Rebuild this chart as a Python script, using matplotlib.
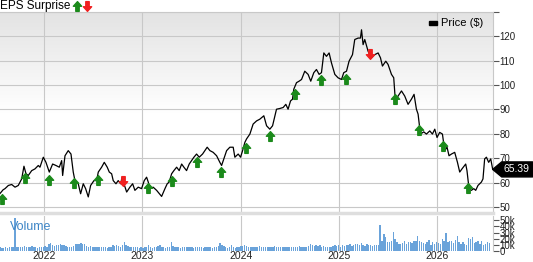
import numpy as np
import matplotlib
matplotlib.use("Agg")
import matplotlib.pyplot as plt
import matplotlib.transforms as mtransforms
from matplotlib.path import Path
from matplotlib.patches import Polygon, Rectangle
from matplotlib.lines import Line2D
from matplotlib.colors import LinearSegmentedColormap

plt.rcParams['font.family'] = ['Liberation Sans', 'DejaVu Sans']

# price line (decimal year, $)
price_t = [2021.549, 2021.580, 2021.600, 2021.634, 2021.668, 2021.702, 2021.735, 2021.770,
           2021.793, 2021.814, 2021.837, 2021.872, 2021.905, 2021.939, 2021.956, 2021.990,
           2022.017, 2022.051, 2022.085, 2022.119, 2022.153, 2022.177, 2022.187, 2022.211,
           2022.244, 2022.272, 2022.295, 2022.312, 2022.346, 2022.370, 2022.397, 2022.421,
           2022.448, 2022.472, 2022.506, 2022.533, 2022.550, 2022.584, 2022.611, 2022.641,
           2022.662, 2022.686, 2022.702, 2022.730, 2022.753, 2022.778, 2022.791, 2022.811,
           2022.839, 2022.872, 2022.900, 2022.923, 2022.957, 2022.991, 2023.018, 2023.042,
           2023.059, 2023.076, 2023.109, 2023.144, 2023.195, 2023.229, 2023.252, 2023.272,
           2023.297, 2023.320, 2023.348, 2023.374, 2023.399, 2023.422, 2023.449, 2023.476,
           2023.500, 2023.524, 2023.551, 2023.578, 2023.612, 2023.659, 2023.687, 2023.720,
           2023.755, 2023.788, 2023.806, 2023.829, 2023.857, 2023.890, 2023.924, 2023.941,
           2023.975, 2023.999, 2024.019, 2024.043, 2024.060, 2024.094, 2024.127, 2024.162,
           2024.195, 2024.236, 2024.264, 2024.297, 2024.325, 2024.365, 2024.399, 2024.433,
           2024.460, 2024.483, 2024.508, 2024.528, 2024.541, 2024.569, 2024.595, 2024.620,
           2024.653, 2024.687, 2024.714, 2024.745, 2024.772, 2024.799, 2024.823, 2024.847,
           2024.874, 2024.901, 2024.925, 2024.959, 2024.992, 2025.027, 2025.050, 2025.078,
           2025.104, 2025.139, 2025.162, 2025.196, 2025.220, 2025.231, 2025.247, 2025.264,
           2025.298, 2025.332, 2025.366, 2025.400, 2025.424, 2025.444, 2025.478, 2025.501,
           2025.536, 2025.559, 2025.577, 2025.603, 2025.638, 2025.671, 2025.705, 2025.739,
           2025.766, 2025.790, 2025.807, 2025.831, 2025.865, 2025.892, 2025.926, 2025.953,
           2025.977, 2026.000, 2026.027, 2026.055, 2026.078, 2026.102, 2026.122, 2026.147,
           2026.180, 2026.208, 2026.231, 2026.254, 2026.292, 2026.305, 2026.326, 2026.350,
           2026.374, 2026.394, 2026.417, 2026.452, 2026.468, 2026.485, 2026.503, 2026.526,
           2026.547, 2026.567]
price = [55.5, 57.0, 57.5, 58.8, 59.2, 58.1, 58.8, 61.5,
         66.7, 63.6, 62.9, 64.9, 65.6, 67.0, 66.3, 70.4,
         68.3, 64.3, 67.6, 67.0, 66.3, 69.0, 62.9, 71.0,
         73.1, 71.7, 64.3, 60.8, 59.5, 55.4, 59.5, 57.5,
         54.1, 58.8, 60.8, 60.8, 64.3, 66.3, 68.3, 66.3,
         64.3, 63.6, 60.8, 59.5, 60.8, 59.5, 62.0, 59.5,
         56.1, 58.1, 59.5, 56.8, 58.1, 57.5, 60.8, 62.2,
         60.2, 57.5, 58.1, 56.8, 54.3, 57.5, 59.5, 60.2,
         63.6, 64.9, 66.3, 64.9, 67.6, 66.3, 64.9, 67.6,
         69.0, 70.4, 71.7, 70.4, 71.7, 74.5, 73.1, 72.4,
         71.0, 68.3, 67.0, 69.7, 73.1, 74.5, 74.5, 70.4,
         71.7, 70.4, 73.0, 76.5, 77.9, 79.9, 84.0, 85.3,
         86.0, 87.4, 83.3, 81.9, 83.3, 90.1, 90.4, 90.8,
         92.1, 90.1, 93.5, 94.2, 98.3, 101.0, 101.6, 102.3,
         105.7, 104.4, 101.6, 105.1, 106.4, 104.4, 105.1, 113.2,
         111.8, 113.2, 109.1, 104.4, 103.0, 102.3, 105.1, 105.7,
         109.8, 112.5, 118.7, 119.3, 119.3, 122.7, 116.6, 118.7,
         113.9, 111.2, 112.5, 113.2, 111.2, 107.8, 109.8, 108.5,
         104.4, 103.0, 92.8, 95.5, 97.6, 95.5, 92.1, 94.2,
         96.2, 90.1, 88.1, 79.9, 80.8, 79.9, 81.2, 79.9,
         81.9, 78.5, 80.6, 79.9, 73.1, 74.5, 71.0, 71.7,
         72.4, 68.3, 64.3, 65.6, 67.6, 64.9, 57.5, 56.8,
         57.5, 56.8, 58.8, 60.2, 61.5, 69.7, 70.4, 68.3,
         69.7, 65.4]
last_price = 65.39

# earnings surprise markers (decimal year)
beat_t = [2021.566, 2021.804, 2022.051, 2022.302, 2022.550, 2023.052, 2023.297, 2023.551,
          2023.798, 2024.053, 2024.300, 2024.552, 2024.819, 2025.068, 2025.569, 2025.817,
          2026.061, 2026.316]
miss_t = [2022.804, 2025.315]

# weekly volume, thousands of shares
vol_start = 2021.549
volume_k = [6, 5, 5, 6, 5, 6, 7, 6, 54, 6, 7, 6, 7, 8, 7, 6, 7, 8, 6, 7, 5, 7, 6,
            7, 8, 6, 11, 13, 9, 8, 9, 10, 12, 10, 9, 8, 7, 6, 7, 8, 11, 12, 12, 13, 11,
            12, 8, 7, 8, 7, 6, 7, 6, 6, 7, 6, 6, 5, 6, 7, 10, 8, 9, 8, 7, 10, 15, 9, 8,
            7, 6, 7, 6, 7, 5,
            6, 5, 6, 7, 9, 6, 5, 6, 7, 8, 9, 7, 6, 5, 6, 7, 15, 8, 7, 6, 6, 5, 6, 6, 7,
            6, 6, 6, 5, 6, 7, 6, 6, 5, 6, 6, 7, 6, 5, 6, 6, 8, 13, 9, 8, 6, 5, 6, 9, 6,
            5, 6,
            7, 8, 8, 9, 8, 7, 6, 7, 6, 6, 7, 8, 7, 6, 7, 7, 6, 6, 7, 8, 7, 6, 7, 7, 6,
            6, 7, 6, 7, 6, 6, 7, 8, 7, 6, 7, 7, 8, 12, 9, 8, 10, 8, 9, 7, 8, 7, 6, 7, 6,
            8, 9,
            8, 10, 7, 9, 8, 10, 9, 11, 8, 10, 12, 11, 9, 13, 10, 8, 12, 9, 10, 8, 9, 10,
            9, 42, 16, 27, 22, 15, 14, 16, 31, 19, 15, 12, 11, 13, 16, 12, 14, 15, 13,
            17, 16, 25, 17, 14, 13, 11, 14, 18, 10, 15,
            12, 14, 13, 11, 20, 16, 30, 15, 17, 16, 13, 18, 24, 15, 12, 14, 11, 10, 21,
            19, 22, 13, 15, 16, 12, 17, 10, 11, 15, 13]

years = [2022, 2023, 2024, 2025, 2026]
price_ticks = [50, 60, 70, 80, 90, 100, 110, 120]
vol_ticks = [0, 10, 20, 30, 40, 50]

W, H = 533, 262
fig = plt.figure(figsize=(W / 100, H / 100), dpi=100)
ax = fig.add_axes([0, 1 - 213 / H, 492.7 / W, 201 / H])
axv = fig.add_axes([0, 1 - 251 / H, 492.7 / W, 35 / H])

grid_c = '#c8c8c8'
xlim = (price_t[0], price_t[-1])

# gradient background
grad = np.linspace(1, 0, 256).reshape(-1, 1)
cmap = LinearSegmentedColormap.from_list('bg', ['#ffffff', '#ffffff', '#e3e3e3'])
ax.imshow(grad, extent=[0, 1, 0, 1], transform=ax.transAxes, aspect='auto',
          cmap=cmap, vmin=0, vmax=1, zorder=0)

ax.plot(price_t, price, color='black', lw=0.9, zorder=3)
ax.set_xlim(*xlim)
ax.set_ylim(47.5, 130)
ax.set_xticks(years)
ax.set_yticks(price_ticks + [130])
ax.set_yticklabels([str(v) for v in price_ticks] + [''])
ax.yaxis.tick_right()
ax.tick_params(axis='y', length=4, width=0.8, color='#555555', labelsize=7, pad=1,
               labelcolor='#222222')
ax.tick_params(axis='x', length=0, labelbottom=False)
ax.grid(True, color=grid_c, lw=0.8)
ax.set_axisbelow(True)
ax.spines['left'].set_visible(False)
ax.spines['top'].set_color(grid_c)
ax.spines['right'].set_color(grid_c)
ax.spines['bottom'].set_color('#dedede')
ax.spines['bottom'].set_linewidth(2.5)

# EPS surprise arrows
up = Path([(-0.85, 0.05), (0, 1), (0.85, 0.05), (0.35, 0.05), (0.35, -1), (-0.35, -1),
           (-0.35, 0.05), (-0.85, 0.05)],
          [Path.MOVETO] + [Path.LINETO] * 6 + [Path.CLOSEPOLY])
down = Path(up.vertices * np.array([1, -1]), up.codes)
below = mtransforms.offset_copy(ax.transData, fig=fig, x=0, y=-7.5, units='dots')
above = mtransforms.offset_copy(ax.transData, fig=fig, x=0, y=1, units='dots')
ax.plot(beat_t, np.interp(beat_t, price_t, price), ls='none', marker=up, ms=7,
        color='#1b8a1b', mec='#1b8a1b', transform=below, zorder=4)
ax.plot(miss_t, np.interp(miss_t, price_t, price), ls='none', marker=down, ms=7,
        color='#f02020', mec='#f02020', transform=above, zorder=4)

# volume panel
vol_t = vol_start + np.arange(len(volume_k)) / 52.18
axv.bar(vol_t, volume_k, width=0.72 / 52.18, color='#6aa3da', lw=0, zorder=2)
axv.set_xlim(*xlim)
axv.set_ylim(0, 57)
axv.set_xticks(years)
axv.set_xticklabels([str(y) for y in years])
axv.tick_params(axis='x', length=0, labelsize=7.5, pad=0, labelcolor='#222222')
axv.set_yticks(vol_ticks)
axv.set_yticklabels(['0' if v == 0 else f'{v}k' for v in vol_ticks])
axv.yaxis.tick_right()
axv.tick_params(axis='y', length=4, width=0.8, color='#555555', labelsize=7, pad=1,
                labelcolor='#222222')
axv.grid(True, axis='x', color=grid_c, lw=0.8)
axv.set_axisbelow(True)
for s in ['left', 'top', 'bottom']:
    axv.spines[s].set_visible(False)
axv.spines['right'].set_color(grid_c)
axv.text(10 / 492.7, 0.7, 'Volume', transform=axv.transAxes, fontsize=9,
         color='#3d85c6', va='center', ha='left')

# header and legend
fig.text(0, 1 - 5.5 / H, 'EPS Surprise', fontsize=8.5, va='center', ha='left')
fig.add_artist(Line2D([77 / W], [1 - 5.5 / H], marker=up, ms=7, color='#1b8a1b',
                      ls='none', transform=fig.transFigure))
fig.add_artist(Line2D([87 / W], [1 - 5.5 / H], marker=down, ms=7, color='#f02020',
                      ls='none', transform=fig.transFigure))
fig.add_artist(Rectangle((429 / W, 1 - 25 / H), 8 / W, 4 / H, color='black',
                         transform=fig.transFigure))
fig.text(441 / W, 1 - 23 / H, 'Price ($)', fontsize=8, va='center', ha='left')

# last price tag
px, py = mtransforms.blended_transform_factory(ax.transAxes, ax.transData).transform((1, last_price))
tag = Polygon([(px, py), (px + 9, py + 7.5), (px + 40, py + 7.5), (px + 40, py - 7.5),
               (px + 9, py - 7.5)], closed=True, fc='black', ec='black',
              transform=mtransforms.IdentityTransform())
fig.add_artist(tag)
fig.text(px + 24, py, f'{last_price:.2f}', transform=mtransforms.IdentityTransform(),
         color='white', fontsize=7.5, va='center', ha='center')

fig.savefig('out.png', dpi=100)
